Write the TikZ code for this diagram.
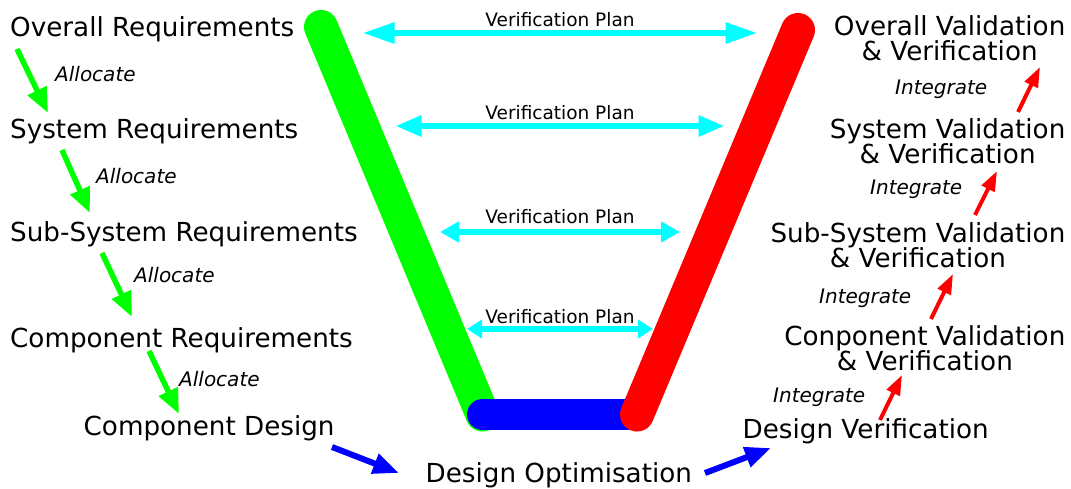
\documentclass[tikz,border=0pt]{standalone}
\usepackage{fontspec}
\setmainfont{DejaVu Sans}
\usetikzlibrary{arrows.meta,calc}
\definecolor{vgreen}{RGB}{0,255,0}
\definecolor{vred}{RGB}{255,0,0}
\definecolor{vblue}{RGB}{0,0,255}
\definecolor{vcyan}{RGB}{0,255,255}

\begin{document}
\begin{tikzpicture}[x=1pt,y=-1pt,inner sep=0pt,
        big/.style={font=\fontsize{26.2}{25.5}\selectfont},
        lab/.style={font=\fontsize{20}{22}\selectfont\itshape,anchor=base west},
        plan/.style={font=\fontsize{18.5}{20}\selectfont,anchor=base},
        alloc/.style={draw=vgreen,line width=5.5pt,-{Triangle[length=25pt,width=20pt]}},
        integ/.style={draw=vred,line width=4pt,-{Triangle[length=20pt,width=14pt]}},
        flow/.style={draw=vblue,line width=6pt,-{Triangle[length=26pt,width=20pt]}},
        vplan/.style={draw=vcyan,line width=6pt}]
            \useasboundingbox (0,0) rectangle (1071,489);
            % the V
            \coordinate (g_top) at (321,27);
            \coordinate (g_bot) at (482.5,414.5);
            \coordinate (r_top) at (798,30);
            \coordinate (r_bot) at (637,414.5);
            \draw[vgreen,line width=34pt,line cap=round] (g_top) -- (g_bot);
            \draw[vblue,line width=31pt,line cap=round] (g_bot) -- (r_bot);
            \draw[vred,line width=34pt,line cap=round] (r_bot) -- (r_top);
            % left side
            \node[big,anchor=base west] (req_0) at (10,37) {Overall Requirements};
            \node[big,anchor=base west] (req_1) at (10,139) {System Requirements};
            \node[big,anchor=base west] (req_2) at (10,242) {Sub-System Requirements};
            \node[big,anchor=base west] (req_3) at (10,347) {Component Requirements};
            \node[big,anchor=base west] (des) at (83.5,435) {Component Design};
            \node[lab] (alloc_1) at (55,82) {Allocate};
            \node[lab] (alloc_2) at (96,184) {Allocate};
            \node[lab] (alloc_3) at (134,283) {Allocate};
            \node[lab] (alloc_4) at (179,386) {Allocate};
            % bottom
            \node[big,anchor=base west] (opt) at (425.5,482) {Design Optimisation};
            \node[big,anchor=base west] (ver) at (742.5,438) {Design Verification};
            % right side
            \node[big,anchor=north east,align=center] (val_0) at (1065.5,325.2) {Conponent Validation\\\& Verification};
            \node[big,anchor=north east,align=center] (val_1) at (1065.5,222.2) {Sub-System Validation\\\& Verification};
            \node[big,anchor=north east,align=center] (val_2) at (1065.5,118.2) {System Validation\\\& Verification};
            \node[big,anchor=north east,align=center] (val_3) at (1065.5,15.2) {Overall Validation\\\& Verification};
            \node[lab] (int_1) at (773,402) {Integrate};
            \node[lab] (int_2) at (819,303) {Integrate};
            \node[lab] (int_3) at (870,195) {Integrate};
            \node[lab] (int_4) at (895,95) {Integrate};
            % verification plans
            \node[plan] (plan_1) at (560,27) {Verification Plan};
            \node[plan] (plan_2) at (560,120) {Verification Plan};
            \node[plan] (plan_3) at (560,224) {Verification Plan};
            \node[plan] (plan_4) at (560,323) {Verification Plan};
            \path
                ($(plan_1.base)+(-197.5,6)$)
                    edge [vplan,{Triangle[length=32pt,width=20pt]}-{Triangle[length=32pt,width=20pt]}] ($(plan_1.base)+(197.5,6)$)
                ($(plan_2.base)+(-164.5,6)$)
                    edge [vplan,{Triangle[length=26pt,width=20pt]}-{Triangle[length=26pt,width=20pt]}] ($(plan_2.base)+(164.5,6)$)
                ($(plan_3.base)+(-120,8)$)
                    edge [vplan,{Triangle[length=19pt,width=20pt]}-{Triangle[length=19pt,width=20pt]}] ($(plan_3.base)+(120,8)$)
                ($(plan_4.base)+(-93,6)$)
                    edge [vplan,{Triangle[length=15pt,width=18pt]}-{Triangle[length=15pt,width=18pt]}] ($(plan_4.base)+(93,6)$)
                ;
            % allocate
            \path
                ($(req_0.base west)+(7,12)$)
                    edge [alloc] ($(req_1.base west)+(38,-26)$)
                ($(req_1.base west)+(52,11)$)
                    edge [alloc] ($(req_2.base west)+(80,-29)$)
                ($(req_2.base west)+(92,11)$)
                    edge [alloc] ($(req_3.base west)+(122,-30)$)
                ($(req_3.base west)+(139,4)$)
                    edge [alloc] ($(des.base west)+(95.5,-21)$)
                ;
            % optimise
            \path
                ($(des.base west)+(248.5,12)$)
                    edge [flow] ($(opt.base west)+(-26.5,-9)$)
                ($(opt.base west)+(279.5,-9)$)
                    edge [flow] ($(ver.base west)+(28.5,10)$)
                ;
            % integrate
            \path
                ($(ver.base west)+(137.5,-18)$)
                    edge [integ] ($(val_0.north east)+(-163.5,49.8)$)
                ($(val_0.north east)+(-134.5,-6.2)$)
                    edge [integ] ($(val_1.north east)+(-112.5,51.8)$)
                ($(val_1.north east)+(-90.5,-7.2)$)
                    edge [integ] ($(val_2.north east)+(-68.5,52.8)$)
                ($(val_2.north east)+(-47.5,-6.2)$)
                    edge [integ] ($(val_3.north east)+(-25.5,51.8)$)
                ;
\end{tikzpicture}
\end{document}
